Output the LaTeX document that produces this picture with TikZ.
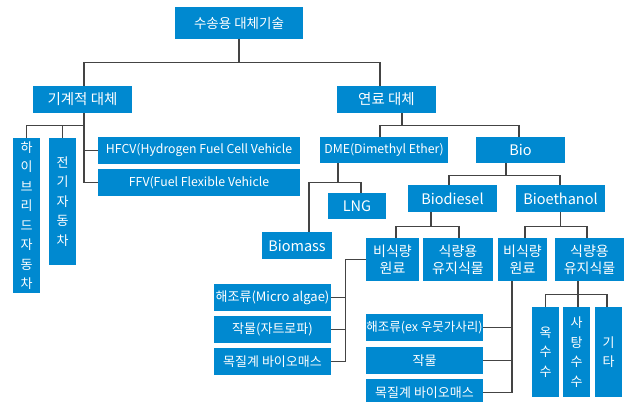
\documentclass[tikz,border=0pt]{standalone}
\usepackage{fontspec}
\setmainfont{Noto Sans CJK KR}
\newfontfamily\latn{Noto Sans CJK KR}
\definecolor{boxblue}{RGB}{0,137,208}
\definecolor{linegray}{RGB}{68,68,68}
\begin{document}
\begin{tikzpicture}[x=1pt,y=-1pt,
  box/.style={fill=boxblue, text=white, inner sep=0pt, align=center,
    font=\fontsize{13}{17}\selectfont},
  head/.style={box, font=\fontsize{14.5}{17}\selectfont},
  twoline/.style={box, font=\fontsize{14}{17}\selectfont},
  vbox/.style={box, font=\fontsize{13}{19.5}\selectfont},
  lat/.style={box, font=\fontsize{12.3}{17}\selectfont\latn},
  latbig/.style={box, font=\fontsize{14.5}{17}\selectfont\latn},
  conn/.style={draw=linegray, line width=1.1pt}]
\useasboundingbox (0,0) rectangle (628,401);
\begin{scope}
\clip (0,0) rectangle (628,401);
% level 0
\node[box, font=\fontsize{13.5}{17}\selectfont, minimum width=128pt, minimum height=32pt] (top) at (239,23) {수송용 대체기술};
% level 1
\node[head, minimum width=99pt, minimum height=27pt] (mech) at (82.5,99.5) {기계적 대체};
\node[head, minimum width=99pt, minimum height=27pt] (fuel) at (386.5,99.5) {연료 대체};
% mechanical children
\node[vbox, minimum width=27pt, minimum height=155pt] (hyb) at (26.5,215.5) {하\\이\\브\\리\\드\\자\\동\\차};
\node[vbox, minimum width=27pt, minimum height=127pt] (elec) at (62.5,201.5) {전\\기\\자\\동\\차};
\node[lat, minimum width=202pt, minimum height=27pt] (hfcv) at (199,150.5) {HFCV(Hydrogen Fuel Cell Vehicle};
\node[lat, minimum width=202pt, minimum height=27pt] (ffv) at (199,182.5) {FFV(Fuel Flexible Vehicle};
% fuel children
\node[lat, minimum width=128pt, minimum height=26pt] (dme) at (384,150) {DME(Dimethyl Ether)};
\node[latbig, minimum width=89pt, minimum height=26pt] (bio) at (520.5,150) {Bio};
\node[latbig, minimum width=58pt, minimum height=26pt] (lng) at (357,206) {LNG};
\node[latbig, minimum width=70pt, minimum height=27pt] (biomass) at (297,245.5) {Biomass};
\node[latbig, minimum width=89pt, minimum height=27pt] (bdsl) at (452.5,198.5) {Biodiesel};
\node[latbig, minimum width=89pt, minimum height=27pt] (beth) at (560.5,198.5) {Bioethanol};
\node[twoline, minimum width=53pt, minimum height=43pt] (nfa) at (392.5,259.5) {비식량\\원료};
\node[twoline, minimum width=70pt, minimum height=43pt] (foa) at (458,259.5) {식량용\\유지식물};
\node[twoline, minimum width=49pt, minimum height=43pt] (nfb) at (522.5,259.5) {비식량\\원료};
\node[twoline, minimum width=69pt, minimum height=43pt] (fob) at (589.5,259.5) {식량용\\유지식물};
% left group
\node[box, minimum width=117pt, minimum height=27pt] (alga) at (272.5,297.5) {해조류(Micro algae)};
\node[box, minimum width=117pt, minimum height=27pt] (cropa) at (272.5,329.5) {작물(자트로파)};
\node[box, minimum width=117pt, minimum height=27pt] (wooda) at (272.5,361.5) {목질계 바이오매스};
% right group
\node[box, minimum width=117pt, minimum height=27pt, font=\fontsize{12.5}{17}\selectfont] (algb) at (424.5,327.5) {해조류(ex 우뭇가사리)};
\node[box, minimum width=117pt, minimum height=27pt] (cropb) at (424.5,360.5) {작물};
\node[box, minimum width=117pt, minimum height=27pt] (woodb) at (424.5,392.5) {목질계 바이오매스};
\node[vbox, minimum width=27pt, minimum height=90pt] (corn) at (545.5,352) {옥\\수\\수};
\node[vbox, minimum width=27pt, minimum height=90pt] (sugar) at (576.5,352) {사\\탕\\수\\수};
\node[vbox, minimum width=27pt, minimum height=90pt] (etc) at (608.5,352) {기\\타};
% connectors
\draw[conn] (top.south) -- ++(0,23) coordinate (j1);
\draw[conn] ([xshift=1.5pt]mech.north) |- (j1) -| ([xshift=-6.5pt]fuel.north);
\draw[conn] ([xshift=1.5pt]mech.south) -- ++(0,12) coordinate (j2) -- (j2 |- ffv.west) -- (ffv.west);
\draw[conn] (hfcv.west) -- (hfcv.west -| j2);
\draw[conn] (hyb.north) |- (j2);
\draw[conn] (elec.north) -- (elec.north |- j2);
\draw[conn] ([xshift=15.5pt]fuel.south) -- ++(0,12) coordinate (j3);
\draw[conn] ([xshift=-4pt]dme.north) |- (j3) -| ([xshift=-1.5pt]bio.north);
\draw[conn] ([xshift=-46pt]dme.south) -- ++(0,19) coordinate (j4);
\draw[conn] ([xshift=12pt]biomass.north) |- (j4) -| ([xshift=4pt]lng.north);
\draw[conn] ([xshift=-14.5pt]bio.south) -- ++(0,12) coordinate (j5);
\draw[conn] ([xshift=-3.5pt]bdsl.north) |- (j5) -| ([xshift=-0.5pt]beth.north);
\draw[conn] ([xshift=-21.5pt]bdsl.south) -- ++(0,14) coordinate (j6);
\draw[conn] ([xshift=3.5pt]nfa.north) |- (j6) -| ([xshift=1pt]foa.north);
\draw[conn] (beth.south) -- ++(0,14) coordinate (j7);
\draw[conn] ([xshift=2.5pt]nfb.north) |- (j7) -| ([xshift=-2.5pt]fob.north);
\draw[conn] (nfa.west) -- ++(-20,0) coordinate (j8) -- (j8 |- wooda.east) -- (wooda.east);
\draw[conn] (alga.east) -- (alga.east -| j8);
\draw[conn] (cropa.east) -- (cropa.east -| j8);
\draw[conn] ([xshift=-10.5pt]nfb.south) coordinate (j9) -- (j9 |- woodb.east) -- (woodb.east);
\draw[conn] (algb.east) -- (algb.east -| j9);
\draw[conn] (cropb.east) -- (cropb.east -| j9);
\draw[conn] ([xshift=-11.5pt]fob.south) -- ++(0,13) coordinate (j10);
\draw[conn] (corn.north) |- (j10) -| ([xshift=-1.5pt]etc.north);
\draw[conn] ([xshift=1.5pt]sugar.north) -- ([xshift=1.5pt]sugar.north |- j10);
\end{scope}
\end{tikzpicture}
\end{document}
